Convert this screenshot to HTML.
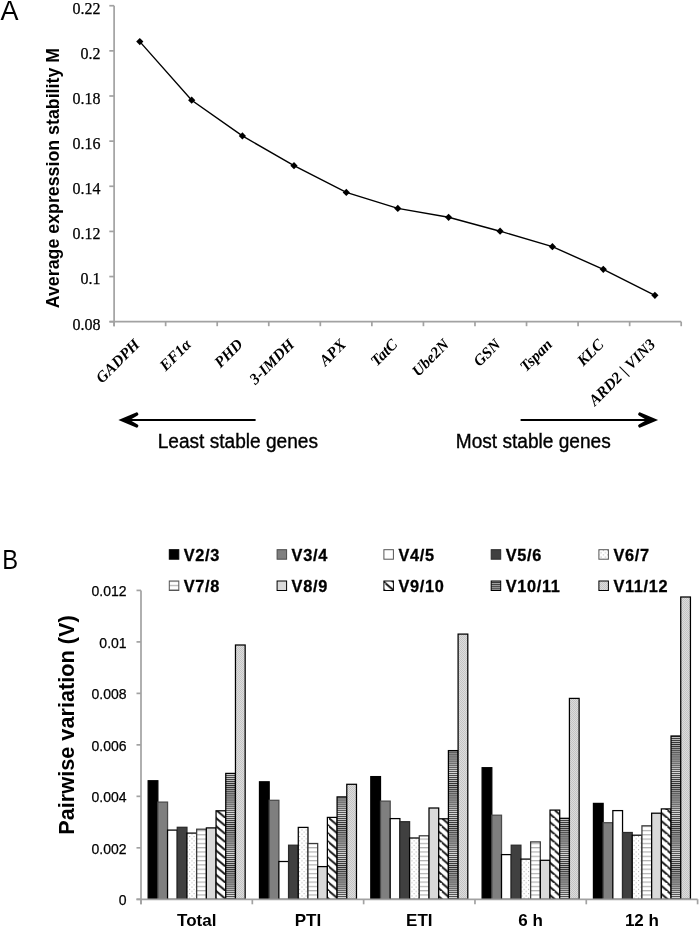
<!DOCTYPE html>
<html><head><meta charset="utf-8"><title>Figure</title><style>
html,body{margin:0;padding:0;background:#fff;}
svg{display:block;will-change:transform;}
text{fill:#000;}
.tA{stroke:#000;stroke-width:0.25px;font-family:"Liberation Serif",serif;font-size:16px;text-anchor:end;}
.gl{font-family:"Liberation Serif",serif;font-size:15.6px;font-weight:bold;font-style:italic;text-anchor:end;}
.ytA{font-family:"Liberation Sans",sans-serif;font-size:17.8px;font-weight:bold;text-anchor:middle;}
.pl{font-family:"Liberation Sans",sans-serif;font-size:27px;}
.sg{stroke:#000;stroke-width:0.35px;font-family:"Liberation Sans",sans-serif;font-size:19.1px;}
.tB{stroke:#000;stroke-width:0.25px;font-family:"Liberation Sans",sans-serif;font-size:14px;text-anchor:end;}
.cl{font-family:"Liberation Sans",sans-serif;font-size:17px;font-weight:bold;text-anchor:middle;}
.ytB{font-family:"Liberation Sans",sans-serif;font-size:21.7px;font-weight:bold;text-anchor:middle;}
.lg{stroke:#000;stroke-width:0.3px;font-family:"Liberation Sans",sans-serif;font-size:16.3px;font-weight:bold;letter-spacing:0.7px;}
</style></head>
<body><svg width="700" height="929" viewBox="0 0 700 929">
<defs>
<pattern id="pDot" patternUnits="userSpaceOnUse" width="4.4" height="4.4">
 <rect width="4.4" height="4.4" fill="#fff"/>
 <rect x="0" y="0" width="1" height="1" fill="#a8a8a8"/>
 <rect x="2.2" y="2.2" width="1" height="1" fill="#a8a8a8"/>
</pattern>
<pattern id="pHl" patternUnits="userSpaceOnUse" width="10" height="4.3">
 <rect width="10" height="4.3" fill="#fff"/>
 <rect x="0" y="0" width="10" height="1.2" fill="#b0b0b0"/>
</pattern>
<pattern id="pDiag" patternUnits="userSpaceOnUse" width="9.4" height="8.1">
 <rect width="9.4" height="8.1" fill="#fff"/>
 <path d="M-2,-1.72 L11.4,9.82 M-11.4,-1.72 L2,9.82 M7.4,-9.82 L20.8,1.72 M-2,6.38 L11.4,17.92" stroke="#1a1a1a" stroke-width="1.9"/>
</pattern>
<pattern id="pHs" patternUnits="userSpaceOnUse" width="10" height="2.05">
 <rect width="10" height="2.05" fill="#d8d8d8"/>
 <rect x="0" y="0" width="10" height="1.05" fill="#2e2e2e"/>
</pattern>
<pattern id="pChk" patternUnits="userSpaceOnUse" width="2" height="2">
 <rect width="2" height="2" fill="#dddddd"/>
 <rect x="0" y="0" width="1" height="1" fill="#c4c4c4"/>
 <rect x="1" y="1" width="1" height="1" fill="#c4c4c4"/>
</pattern>
</defs>
<rect width="700" height="929" fill="#fff"/>
<g stroke="#a2a2a2" stroke-width="1.7" fill="none">
<line x1="114.1" y1="5.72" x2="114.1" y2="326.20"/>
<line x1="109.6" y1="321.7" x2="681.2" y2="321.7"/>
<line x1="109.3" y1="321.70" x2="114.1" y2="321.70"/>
<line x1="109.3" y1="276.56" x2="114.1" y2="276.56"/>
<line x1="109.3" y1="231.42" x2="114.1" y2="231.42"/>
<line x1="109.3" y1="186.28" x2="114.1" y2="186.28"/>
<line x1="109.3" y1="141.14" x2="114.1" y2="141.14"/>
<line x1="109.3" y1="96.00" x2="114.1" y2="96.00"/>
<line x1="109.3" y1="50.86" x2="114.1" y2="50.86"/>
<line x1="109.3" y1="5.72" x2="114.1" y2="5.72"/>
<line x1="114.10" y1="321.7" x2="114.10" y2="326.20"/>
<line x1="165.65" y1="321.7" x2="165.65" y2="326.20"/>
<line x1="217.21" y1="321.7" x2="217.21" y2="326.20"/>
<line x1="268.76" y1="321.7" x2="268.76" y2="326.20"/>
<line x1="320.32" y1="321.7" x2="320.32" y2="326.20"/>
<line x1="371.87" y1="321.7" x2="371.87" y2="326.20"/>
<line x1="423.43" y1="321.7" x2="423.43" y2="326.20"/>
<line x1="474.98" y1="321.7" x2="474.98" y2="326.20"/>
<line x1="526.54" y1="321.7" x2="526.54" y2="326.20"/>
<line x1="578.09" y1="321.7" x2="578.09" y2="326.20"/>
<line x1="629.65" y1="321.7" x2="629.65" y2="326.20"/>
<line x1="681.20" y1="321.7" x2="681.20" y2="326.20"/>
</g>
<text x="100.6" y="329.60" class="tA">0.08</text>
<text x="100.6" y="284.46" class="tA">0.1</text>
<text x="100.6" y="239.32" class="tA">0.12</text>
<text x="100.6" y="194.18" class="tA">0.14</text>
<text x="100.6" y="149.04" class="tA">0.16</text>
<text x="100.6" y="103.90" class="tA">0.18</text>
<text x="100.6" y="58.76" class="tA">0.2</text>
<text x="100.6" y="13.62" class="tA">0.22</text>
<polyline points="139.8,41.6 191.7,100.2 242.4,135.9 294.0,165.7 346.3,192.4 397.8,208.4 448.6,217.3 500.1,231.2 552.4,246.7 603.3,269.3 654.9,295.3" fill="none" stroke="#000" stroke-width="1.4"/>
<path d="M139.8,38.0 L143.4,41.6 L139.8,45.2 L136.2,41.6Z" fill="#000"/>
<path d="M191.7,96.6 L195.3,100.2 L191.7,103.8 L188.1,100.2Z" fill="#000"/>
<path d="M242.4,132.3 L246.0,135.9 L242.4,139.5 L238.8,135.9Z" fill="#000"/>
<path d="M294.0,162.1 L297.6,165.7 L294.0,169.3 L290.4,165.7Z" fill="#000"/>
<path d="M346.3,188.8 L349.9,192.4 L346.3,196.0 L342.7,192.4Z" fill="#000"/>
<path d="M397.8,204.8 L401.4,208.4 L397.8,212.0 L394.2,208.4Z" fill="#000"/>
<path d="M448.6,213.7 L452.2,217.3 L448.6,220.9 L445.0,217.3Z" fill="#000"/>
<path d="M500.1,227.6 L503.7,231.2 L500.1,234.8 L496.5,231.2Z" fill="#000"/>
<path d="M552.4,243.1 L556.0,246.7 L552.4,250.3 L548.8,246.7Z" fill="#000"/>
<path d="M603.3,265.7 L606.9,269.3 L603.3,272.9 L599.7,269.3Z" fill="#000"/>
<path d="M654.9,291.7 L658.5,295.3 L654.9,298.9 L651.3,295.3Z" fill="#000"/>
<text x="140.7" y="345.3" class="gl" transform="rotate(-45 140.7 345.3)">GADPH</text>
<text x="192.2" y="345.3" class="gl" transform="rotate(-45 192.2 345.3)">EF1α</text>
<text x="243.8" y="345.3" class="gl" transform="rotate(-45 243.8 345.3)">PHD</text>
<text x="295.3" y="345.3" class="gl" transform="rotate(-45 295.3 345.3)">3-IMDH</text>
<text x="346.9" y="345.3" class="gl" transform="rotate(-45 346.9 345.3)">APX</text>
<text x="398.4" y="345.3" class="gl" transform="rotate(-45 398.4 345.3)">TatC</text>
<text x="450.0" y="345.3" class="gl" transform="rotate(-45 450.0 345.3)">Ube2N</text>
<text x="501.6" y="345.3" class="gl" transform="rotate(-45 501.6 345.3)">GSN</text>
<text x="553.1" y="345.3" class="gl" transform="rotate(-45 553.1 345.3)">Tspan</text>
<text x="604.7" y="345.3" class="gl" transform="rotate(-45 604.7 345.3)">KLC</text>
<text x="656.2" y="345.3" class="gl" transform="rotate(-45 656.2 345.3)">ARD2 | VIN3</text>
<text x="0" y="0" class="ytA" transform="translate(58.5,178.1) rotate(-90)">Average expression stability M</text>
<text x="0.5" y="20" class="pl">A</text>
<text x="0" y="0" class="pl" transform="translate(2.2,568.6) scale(0.88,1)">B</text>
<line x1="128" y1="420" x2="255.6" y2="420" stroke="#000" stroke-width="2.0"/>
<path d="M118.40,420.00 L135.60,412.70 A1.75,1.75 0 0 1 137.60,415.60 L131.60,419.00 L131.60,421.00 L137.60,424.40 A1.75,1.75 0 0 1 135.60,427.30 Z" fill="#000"/>
<line x1="520.6" y1="420" x2="648" y2="420" stroke="#000" stroke-width="2.0"/>
<path d="M658.10,420.00 L640.90,412.70 A1.75,1.75 0 0 0 638.90,415.60 L644.90,419.00 L644.90,421.00 L638.90,424.40 A1.75,1.75 0 0 0 640.90,427.30 Z" fill="#000"/>
<text x="0" y="0" class="sg" transform="translate(157.7,447.7) scale(1,1.055)">Least stable genes</text>
<text x="0" y="0" class="sg" transform="translate(455.8,447.5) scale(1,1.055)">Most stable genes</text>
<text x="126.6" y="905.30" class="tB">0</text>
<text x="126.6" y="853.82" class="tB">0.002</text>
<text x="126.6" y="802.34" class="tB">0.004</text>
<text x="126.6" y="750.86" class="tB">0.006</text>
<text x="126.6" y="699.38" class="tB">0.008</text>
<text x="126.6" y="647.90" class="tB">0.01</text>
<text x="126.6" y="596.42" class="tB">0.012</text>
<text x="196.7" y="926.1" class="cl">Total</text>
<text x="308.0" y="926.1" class="cl">PTI</text>
<text x="419.3" y="926.1" class="cl">ETI</text>
<text x="530.6" y="926.1" class="cl">6 h</text>
<text x="641.9" y="926.1" class="cl">12 h</text>
<text x="0" y="0" class="ytB" transform="translate(74,725) rotate(-90)">Pairwise variation (V)</text>
<rect x="148.16" y="780.75" width="9.70" height="118.55" fill="#000" stroke="#000" stroke-width="1.25"/>
<rect x="157.86" y="802.10" width="9.70" height="97.20" fill="#7f7f7f" stroke="#4a4a4a" stroke-width="1.25"/>
<rect x="167.56" y="830.10" width="9.70" height="69.20" fill="#fff" stroke="#000" stroke-width="1.25"/>
<rect x="177.26" y="827.30" width="9.70" height="72.00" fill="#404040" stroke="#2a2a2a" stroke-width="1.25"/>
<rect x="186.96" y="833.10" width="9.70" height="66.20" fill="url(#pDot)" stroke="#000" stroke-width="1.25"/>
<rect x="196.66" y="829.20" width="9.70" height="70.10" fill="url(#pHl)" stroke="#3a3a3a" stroke-width="1.25"/>
<rect x="206.36" y="827.90" width="9.70" height="71.40" fill="#d9d9d9" stroke="#000" stroke-width="1.25"/>
<rect x="216.06" y="810.80" width="9.70" height="88.50" fill="url(#pDiag)" stroke="#000" stroke-width="1.25"/>
<rect x="225.76" y="773.40" width="9.70" height="125.90" fill="url(#pHs)" stroke="#000" stroke-width="1.25"/>
<rect x="235.46" y="645.00" width="9.70" height="254.30" fill="url(#pChk)" stroke="#000" stroke-width="1.25"/>
<rect x="259.48" y="781.80" width="9.70" height="117.50" fill="#000" stroke="#000" stroke-width="1.25"/>
<rect x="269.18" y="800.30" width="9.70" height="99.00" fill="#7f7f7f" stroke="#4a4a4a" stroke-width="1.25"/>
<rect x="278.88" y="861.50" width="9.70" height="37.80" fill="#fff" stroke="#000" stroke-width="1.25"/>
<rect x="288.58" y="845.20" width="9.70" height="54.10" fill="#404040" stroke="#2a2a2a" stroke-width="1.25"/>
<rect x="298.28" y="827.40" width="9.70" height="71.90" fill="url(#pDot)" stroke="#000" stroke-width="1.25"/>
<rect x="307.98" y="843.50" width="9.70" height="55.80" fill="url(#pHl)" stroke="#3a3a3a" stroke-width="1.25"/>
<rect x="317.68" y="866.60" width="9.70" height="32.70" fill="#d9d9d9" stroke="#000" stroke-width="1.25"/>
<rect x="327.38" y="817.40" width="9.70" height="81.90" fill="url(#pDiag)" stroke="#000" stroke-width="1.25"/>
<rect x="337.08" y="796.90" width="9.70" height="102.40" fill="url(#pHs)" stroke="#000" stroke-width="1.25"/>
<rect x="346.78" y="784.30" width="9.70" height="115.00" fill="url(#pChk)" stroke="#000" stroke-width="1.25"/>
<rect x="370.80" y="776.60" width="9.70" height="122.70" fill="#000" stroke="#000" stroke-width="1.25"/>
<rect x="380.50" y="801.10" width="9.70" height="98.20" fill="#7f7f7f" stroke="#4a4a4a" stroke-width="1.25"/>
<rect x="390.20" y="818.60" width="9.70" height="80.70" fill="#fff" stroke="#000" stroke-width="1.25"/>
<rect x="399.90" y="821.70" width="9.70" height="77.60" fill="#404040" stroke="#2a2a2a" stroke-width="1.25"/>
<rect x="409.60" y="838.00" width="9.70" height="61.30" fill="url(#pDot)" stroke="#000" stroke-width="1.25"/>
<rect x="419.30" y="835.80" width="9.70" height="63.50" fill="url(#pHl)" stroke="#3a3a3a" stroke-width="1.25"/>
<rect x="429.00" y="808.00" width="9.70" height="91.30" fill="#d9d9d9" stroke="#000" stroke-width="1.25"/>
<rect x="438.70" y="818.80" width="9.70" height="80.50" fill="url(#pDiag)" stroke="#000" stroke-width="1.25"/>
<rect x="448.40" y="750.60" width="9.70" height="148.70" fill="url(#pHs)" stroke="#000" stroke-width="1.25"/>
<rect x="458.10" y="634.10" width="9.70" height="265.20" fill="url(#pChk)" stroke="#000" stroke-width="1.25"/>
<rect x="482.12" y="767.70" width="9.70" height="131.60" fill="#000" stroke="#000" stroke-width="1.25"/>
<rect x="491.82" y="815.20" width="9.70" height="84.10" fill="#7f7f7f" stroke="#4a4a4a" stroke-width="1.25"/>
<rect x="501.52" y="854.60" width="9.70" height="44.70" fill="#fff" stroke="#000" stroke-width="1.25"/>
<rect x="511.22" y="845.20" width="9.70" height="54.10" fill="#404040" stroke="#2a2a2a" stroke-width="1.25"/>
<rect x="520.92" y="859.10" width="9.70" height="40.20" fill="url(#pDot)" stroke="#000" stroke-width="1.25"/>
<rect x="530.62" y="841.90" width="9.70" height="57.40" fill="url(#pHl)" stroke="#3a3a3a" stroke-width="1.25"/>
<rect x="540.32" y="860.30" width="9.70" height="39.00" fill="#d9d9d9" stroke="#000" stroke-width="1.25"/>
<rect x="550.02" y="810.10" width="9.70" height="89.20" fill="url(#pDiag)" stroke="#000" stroke-width="1.25"/>
<rect x="559.72" y="818.30" width="9.70" height="81.00" fill="url(#pHs)" stroke="#000" stroke-width="1.25"/>
<rect x="569.42" y="698.40" width="9.70" height="200.90" fill="url(#pChk)" stroke="#000" stroke-width="1.25"/>
<rect x="593.44" y="803.40" width="9.70" height="95.90" fill="#000" stroke="#000" stroke-width="1.25"/>
<rect x="603.14" y="822.70" width="9.70" height="76.60" fill="#7f7f7f" stroke="#4a4a4a" stroke-width="1.25"/>
<rect x="612.84" y="810.60" width="9.70" height="88.70" fill="#fff" stroke="#000" stroke-width="1.25"/>
<rect x="622.54" y="832.50" width="9.70" height="66.80" fill="#404040" stroke="#2a2a2a" stroke-width="1.25"/>
<rect x="632.24" y="835.20" width="9.70" height="64.10" fill="url(#pDot)" stroke="#000" stroke-width="1.25"/>
<rect x="641.94" y="825.80" width="9.70" height="73.50" fill="url(#pHl)" stroke="#3a3a3a" stroke-width="1.25"/>
<rect x="651.64" y="813.20" width="9.70" height="86.10" fill="#d9d9d9" stroke="#000" stroke-width="1.25"/>
<rect x="661.34" y="808.90" width="9.70" height="90.40" fill="url(#pDiag)" stroke="#000" stroke-width="1.25"/>
<rect x="671.04" y="736.00" width="9.70" height="163.30" fill="url(#pHs)" stroke="#000" stroke-width="1.25"/>
<rect x="680.74" y="597.00" width="9.70" height="302.30" fill="url(#pChk)" stroke="#000" stroke-width="1.25"/>
<g stroke="#a2a2a2" stroke-width="1.7" fill="none">
<line x1="141.0" y1="590.42" x2="141.0" y2="904.30"/>
<line x1="136.5" y1="899.3" x2="697.6" y2="899.3"/>
<line x1="136.5" y1="899.30" x2="141.0" y2="899.30"/>
<line x1="136.5" y1="847.82" x2="141.0" y2="847.82"/>
<line x1="136.5" y1="796.34" x2="141.0" y2="796.34"/>
<line x1="136.5" y1="744.86" x2="141.0" y2="744.86"/>
<line x1="136.5" y1="693.38" x2="141.0" y2="693.38"/>
<line x1="136.5" y1="641.90" x2="141.0" y2="641.90"/>
<line x1="136.5" y1="590.42" x2="141.0" y2="590.42"/>
<line x1="141.00" y1="899.3" x2="141.00" y2="904.30"/>
<line x1="252.32" y1="899.3" x2="252.32" y2="904.30"/>
<line x1="363.64" y1="899.3" x2="363.64" y2="904.30"/>
<line x1="474.96" y1="899.3" x2="474.96" y2="904.30"/>
<line x1="586.28" y1="899.3" x2="586.28" y2="904.30"/>
<line x1="697.60" y1="899.3" x2="697.60" y2="904.30"/>
</g>
<rect x="169.30" y="549.70" width="9.5" height="9.5" fill="#000" stroke="#000" stroke-width="1"/>
<text x="183.8" y="560.8" class="lg">V2/3</text>
<rect x="277.10" y="549.70" width="9.5" height="9.5" fill="#7f7f7f" stroke="#4a4a4a" stroke-width="1"/>
<text x="291.6" y="560.8" class="lg">V3/4</text>
<rect x="383.90" y="549.70" width="9.5" height="9.5" fill="#fff" stroke="#555" stroke-width="1"/>
<text x="398.4" y="560.8" class="lg">V4/5</text>
<rect x="491.20" y="549.70" width="9.5" height="9.5" fill="#404040" stroke="#2a2a2a" stroke-width="1"/>
<text x="505.7" y="560.8" class="lg">V5/6</text>
<rect x="598.90" y="549.70" width="9.5" height="9.5" fill="url(#pDot)" stroke="#555" stroke-width="1"/>
<text x="613.4" y="560.8" class="lg">V6/7</text>
<rect x="169.30" y="581.00" width="9.5" height="9.5" fill="url(#pHl)" stroke="#555" stroke-width="1"/>
<text x="183.8" y="592.1" class="lg">V7/8</text>
<rect x="277.10" y="581.00" width="9.5" height="9.5" fill="#d9d9d9" stroke="#000" stroke-width="1"/>
<text x="291.6" y="592.1" class="lg">V8/9</text>
<rect x="383.90" y="581.00" width="9.5" height="9.5" fill="url(#pDiag)" stroke="#000" stroke-width="1"/>
<text x="398.4" y="592.1" class="lg">V9/10</text>
<rect x="491.20" y="581.00" width="9.5" height="9.5" fill="url(#pHs)" stroke="#000" stroke-width="1"/>
<text x="505.7" y="592.1" class="lg">V10/11</text>
<rect x="598.90" y="581.00" width="9.5" height="9.5" fill="url(#pChk)" stroke="#000" stroke-width="1"/>
<text x="613.4" y="592.1" class="lg">V11/12</text>
</svg></body></html>
